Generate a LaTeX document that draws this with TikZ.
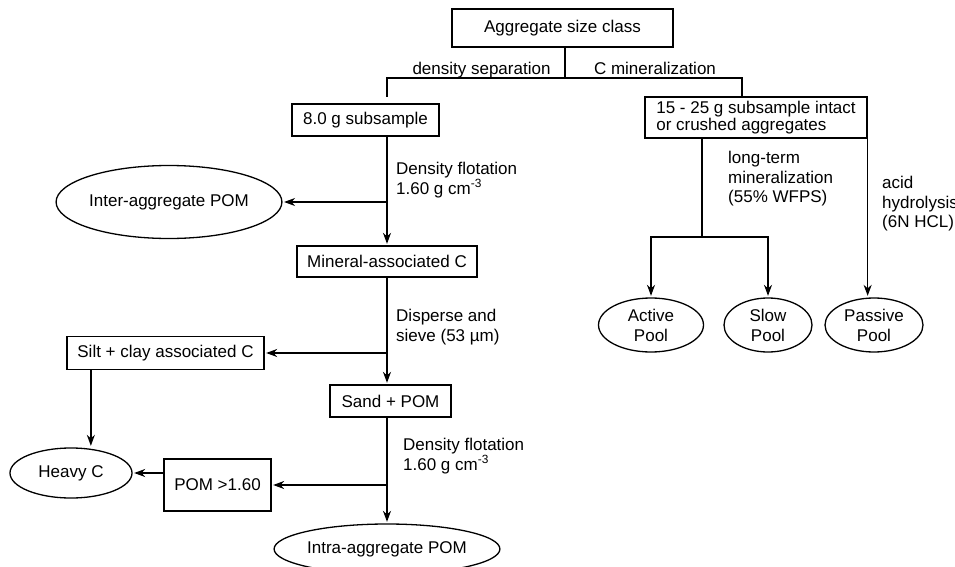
\documentclass[tikz,border=0pt]{standalone}
\usepackage{fontspec}
\setmainfont{Liberation Sans}
\usetikzlibrary{arrows.meta,shapes.geometric,calc}
\begin{document}
\begin{tikzpicture}[x=1pt,y=-1pt,
  every node/.style={font=\fontsize{17}{19.5}\selectfont},
  boxnode/.style={draw,line width=1.3pt,inner sep=0pt,minimum width=#1},
  ellnode/.style={draw,ellipse,line width=1.3pt,inner sep=0pt},
  lbl/.style={align=left,inner sep=0pt,anchor=north west},
  arr/.style={-{Stealth[length=11pt,width=8pt,inset=3.5pt]},line width=1.3pt,shorten >=1.5pt},
  ln/.style={line width=1.3pt}]
\useasboundingbox (0,0) rectangle (955,567);

% boxes
\node[boxnode=221,minimum height=38] (agg) at (562.5,28) {Aggregate size class};
\node[boxnode=147,minimum height=32] (sub8) at (365.5,120) {8.0 g subsample};
\node[boxnode=222,minimum height=41,align=left,font=\fontsize{17}{17}\selectfont] (sub15) at (756,117.5) {15 - 25 g subsample intact\\or crushed aggregates};
\node[boxnode=180,minimum height=31] (mineral) at (387,261.5) {Mineral-associated C};
\node[boxnode=197,minimum height=33] (silt) at (165.5,353) {Silt + clay associated C};
\node[boxnode=121,minimum height=32] (sand) at (390.5,401) {Sand + POM};
\node[boxnode=107,minimum height=52] (pom) at (217.5,485) {POM {>}1.60};

% ellipses
\node[ellnode,minimum width=202,minimum height=73] (inter) at (169,202) {Inter-aggregate POM};
\node[ellnode,minimum width=105,minimum height=54,align=center,font=\fontsize{17}{20}\selectfont] (active) at (651,325) {Active\\Pool};
\node[ellnode,minimum width=88,minimum height=54,align=center,font=\fontsize{17}{20}\selectfont] (slow) at (768,325) {Slow\\Pool};
\node[ellnode,minimum width=98,minimum height=54,align=center,font=\fontsize{17}{20}\selectfont] (passive) at (874,325) {Passive\\Pool};
\node[ellnode,minimum width=122,minimum height=50] (heavy) at (71,473) {Heavy C};
\node[ellnode,minimum width=192,minimum height=50] (intra) at (387,549) {Intra-aggregate POM};

% top split
\coordinate (split) at (565,78);
\coordinate (lj) at (387,97);
\coordinate (rj) at (742,97);
\draw[ln] (agg.south -| split) -- (split);
\draw[ln] (lj) |- (split) -| (rj);
\node[anchor=base,inner sep=0pt] (lds) at (481.5,74.5) {density separation};
\node[anchor=base,inner sep=0pt] (lcm) at (655,74.5) {C mineralization};

% right branch
\coordinate (mj) at (702,237);
\draw[ln] (sub15.south -| mj) -- (mj);
\draw[arr] (mj) -| (active.north);
\draw[arr] (mj) -| (slow.north);
\draw[arr] (sub15.south east) -- (sub15.south east |- passive.north);
\node[lbl] (llt) at (728,151) {long-term\\mineralization\\(55\% WFPS)};
\node[lbl] (lah) at (882,176) {acid\\hydrolysis\\(6N HCL)};

% left branch
\draw[arr] (sub8.south -| mineral) -- (mineral.north);
\draw[arr] (inter.east -| mineral) -- (inter.east);
\node[lbl] (ldf1) at (396,162) {Density flotation\\1.60 g cm\textsuperscript{-3}};

\draw[arr] (mineral.south) -- (sand.north -| mineral);
\draw[arr] (silt.east -| mineral) -- (silt.east);
\node[lbl] (lds2) at (396,309) {Disperse and\\sieve (53 µm)};

\draw[arr] (sand.south -| mineral) -- (intra.north);
\draw[arr] (pom.east -| mineral) -- (pom.east);
\node[lbl] (ldf2) at (403,438) {Density flotation\\1.60 g cm\textsuperscript{-3}};

\draw[arr] (pom.west |- heavy) -- (heavy.east);
\draw[arr] ([xshift=24.5pt]silt.south west) -- ([xshift=24.5pt]silt.south west |- heavy.north);
\end{tikzpicture}
\end{document}
